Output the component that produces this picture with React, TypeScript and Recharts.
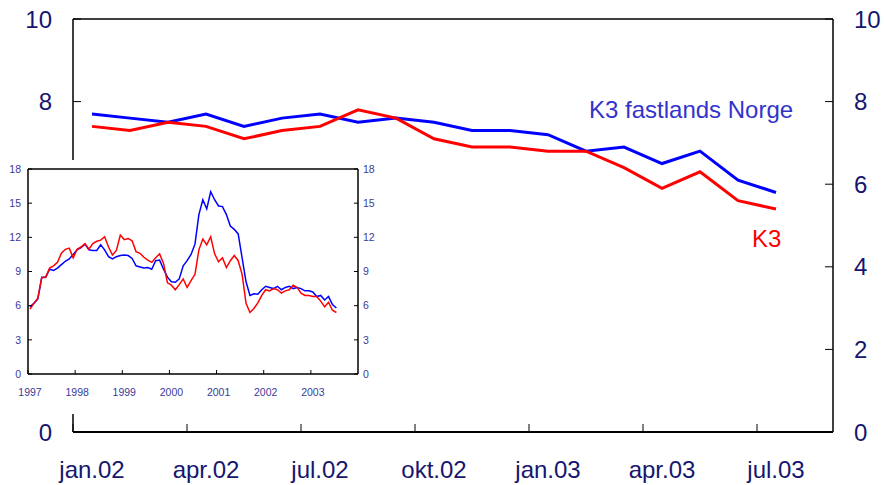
import React from "react";
import { LineChart, Line, XAxis, YAxis, ReferenceLine } from "recharts";

// monthly values, jan 1997 - jul 2003
const k3Fastland = [
  5.9, 6.2, 6.6, 8.5, 8.5, 9.2, 9.1, 9.3, 9.6, 9.9, 10.1, 10.5,
  10.9, 11.1, 11.4, 10.9, 10.85, 10.85, 11.35, 10.9, 10.3, 10.1, 10.3, 10.4,
  10.45, 10.4, 10.15, 9.5, 9.4, 9.3, 9.35, 9.2, 9.95, 10.0, 9.2, 8.5,
  8.1, 8.05, 8.35, 9.5, 9.95, 10.5, 11.4, 14.0, 15.3, 14.5, 16.0, 15.3,
  14.75, 14.7, 14.0, 13.0, 12.7, 12.3, 10.2, 8.1, 6.9, 7.05, 7.0, 7.4,
  7.7, 7.6, 7.5, 7.7, 7.4, 7.6, 7.7, 7.5, 7.6, 7.5, 7.3, 7.3,
  7.2, 6.8, 6.9, 6.5, 6.8, 6.1, 5.8,
];
const k3 = [
  5.7, 6.2, 6.65, 8.45, 8.5, 9.3, 9.5, 9.8, 10.6, 10.95, 11.05, 10.2,
  10.95, 11.15, 11.45, 10.95, 11.45, 11.65, 11.75, 12.05, 11.15, 10.45, 10.85, 12.2,
  11.8, 11.9, 11.7, 10.75, 10.6, 10.25, 10.0, 9.8, 10.2, 10.55, 9.7, 8.0,
  7.8, 7.4, 7.85, 8.35, 7.6, 8.2, 8.75, 10.9, 11.85, 11.35, 12.05, 10.55,
  9.85, 10.2, 9.35, 9.95, 10.4, 9.95, 8.75, 6.2, 5.4, 5.75, 6.25, 6.9,
  7.4, 7.3, 7.5, 7.4, 7.1, 7.3, 7.4, 7.8, 7.6, 7.1, 6.9, 6.9,
  6.8, 6.8, 6.4, 5.9, 6.3, 5.6, 5.4,
];

const mainStart = 60; // jan.02
const mainTickLabels = ["jan.02", "apr.02", "jul.02", "okt.02", "jan.03", "apr.03", "jul.03"];
const mainYTicks = [0, 2, 4, 6, 8, 10];
const insetYears = ["1997", "1998", "1999", "2000", "2001", "2002", "2003"];
const insetYTicks = [0, 3, 6, 9, 12, 15, 18];

const mainData = k3Fastland.slice(mainStart).map((v, i) => ({
  x: i + 0.5,
  fast: v,
  k3: k3[mainStart + i],
}));
const insetData = k3Fastland.map((v, m) => ({ x: m + 0.5, fast: v, k3: k3[m] }));

const FONT = "'Liberation Sans', Arial, sans-serif";
const NAVY = "#16166e";
const INSET_NAVY = "#3a3a98";

const MAIN_PLOT_W = 760;
const halfMonth = MAIN_PLOT_W / 20 / 2;

const mainYTick = (side: "left" | "right") => (props: any) => {
  const { x, y, payload } = props;
  const dir = side === "left" ? 1 : -1;
  return (
    <g>
      <line x1={x} x2={x + dir * 8} y1={y} y2={y} stroke="#000" strokeWidth={1} />
      <text
        x={x - dir * 21}
        y={y}
        dy="0.36em"
        textAnchor={side === "left" ? "end" : "start"}
        fontFamily={FONT}
        fontSize={24}
        fill={NAVY}
      >
        {payload.value}
      </text>
    </g>
  );
};

const mainXTick = (props: any) => {
  const { x, y, index } = props;
  return (
    <g>
      <line x1={x} x2={x} y1={y} y2={y - 8} stroke="#000" strokeWidth={1} />
      <text x={x + halfMonth} y={y + 46} textAnchor="middle" fontFamily={FONT} fontSize={24} fill={NAVY}>
        {mainTickLabels[index]}
      </text>
    </g>
  );
};

const insetYTick = (side: "left" | "right") => (props: any) => {
  const { x, y, payload } = props;
  const dir = side === "left" ? 1 : -1;
  return (
    <g>
      <line x1={x} x2={x + dir * 4} y1={y} y2={y} stroke="#000" strokeWidth={1} />
      <text
        x={side === "left" ? x - 7 : x + 5}
        y={y}
        dy="0.36em"
        textAnchor={side === "left" ? "end" : "start"}
        fontFamily={FONT}
        fontSize={10.5}
        fill={INSET_NAVY}
      >
        {payload.value}
      </text>
    </g>
  );
};

const insetXTick = (props: any) => {
  const { x, y, index } = props;
  return (
    <g>
      <line x1={x} x2={x} y1={y} y2={y - 4} stroke="#000" strokeWidth={1} />
      <text x={x + 2} y={y + 22} textAnchor="middle" fontFamily={FONT} fontSize={10.5} fill={INSET_NAVY}>
        {insetYears[index]}
      </text>
    </g>
  );
};

export default function App() {
  return (
    <div style={{ position: "absolute", left: 0, top: 0, width: 884, height: 485, background: "#fff" }}>
      <LineChart width={884} height={485} data={mainData} margin={{ top: 19, right: 0, bottom: 0, left: 0 }}>
        <XAxis
          dataKey="x"
          type="number"
          domain={[0, 20]}
          ticks={[0, 3, 6, 9, 12, 15, 18]}
          interval={0}
          height={53}
          tickSize={0}
          tickMargin={0}
          tickLine={false}
          axisLine={{ stroke: "#000", strokeWidth: 2 }}
          tick={mainXTick}
        />
        <YAxis
          yAxisId="l"
          orientation="left"
          width={73}
          domain={[0, 10]}
          ticks={mainYTicks}
          interval={0}
          tickSize={0}
          tickMargin={0}
          tickLine={false}
          axisLine={{ stroke: "#000", strokeWidth: 1.5 }}
          tick={mainYTick("left")}
        />
        <YAxis
          yAxisId="r"
          orientation="right"
          width={51}
          domain={[0, 10]}
          ticks={mainYTicks}
          interval={0}
          tickSize={0}
          tickMargin={0}
          tickLine={false}
          axisLine={{ stroke: "#000", strokeWidth: 1.5 }}
          tick={mainYTick("right")}
        />
        <ReferenceLine yAxisId="l" y={10} stroke="#000" strokeWidth={1.5} />
        <Line yAxisId="l" type="linear" dataKey="fast" stroke="#0000ff" strokeWidth={3} dot={false} isAnimationActive={false} />
        <Line yAxisId="r" type="linear" dataKey="k3" stroke="#ff0000" strokeWidth={3} dot={false} isAnimationActive={false} />
      </LineChart>

      <svg width={884} height={485} style={{ position: "absolute", left: 0, top: 0, pointerEvents: "none" }}>
        <text x={589} y={118} fontFamily={FONT} fontSize={24} fill="#3333cc">
          K3 fastlands Norge
        </text>
        <text x={752} y={247} fontFamily={FONT} fontSize={24} fill="#ff0000">
          K3
        </text>
      </svg>

      <div style={{ position: "absolute", left: 0, top: 160, width: 385, height: 254, background: "#fff" }}>
        <LineChart width={385} height={254} data={insetData} margin={{ top: 9, right: 0, bottom: 0, left: 0 }}>
          <XAxis
            dataKey="x"
            type="number"
            domain={[0, 84]}
            ticks={[0, 12, 24, 36, 48, 60, 72]}
            interval={0}
            height={40}
            tickSize={0}
            tickMargin={0}
            tickLine={false}
            axisLine={{ stroke: "#000", strokeWidth: 1.5 }}
            tick={insetXTick}
          />
          <YAxis
            yAxisId="l"
            orientation="left"
            width={28}
            domain={[0, 18]}
            ticks={insetYTicks}
            interval={0}
            tickSize={0}
            tickMargin={0}
            tickLine={false}
            axisLine={{ stroke: "#000", strokeWidth: 1.5 }}
            tick={insetYTick("left")}
          />
          <YAxis
            yAxisId="r"
            orientation="right"
            width={27}
            domain={[0, 18]}
            ticks={insetYTicks}
            interval={0}
            tickSize={0}
            tickMargin={0}
            tickLine={false}
            axisLine={{ stroke: "#000", strokeWidth: 1.5 }}
            tick={insetYTick("right")}
          />
          <ReferenceLine yAxisId="l" y={18} stroke="#000" strokeWidth={1.5} />
          <Line yAxisId="l" type="linear" dataKey="fast" stroke="#0000ff" strokeWidth={1.5} dot={false} isAnimationActive={false} />
          <Line yAxisId="r" type="linear" dataKey="k3" stroke="#ff0000" strokeWidth={1.5} dot={false} isAnimationActive={false} />
        </LineChart>
      </div>
    </div>
  );
}
